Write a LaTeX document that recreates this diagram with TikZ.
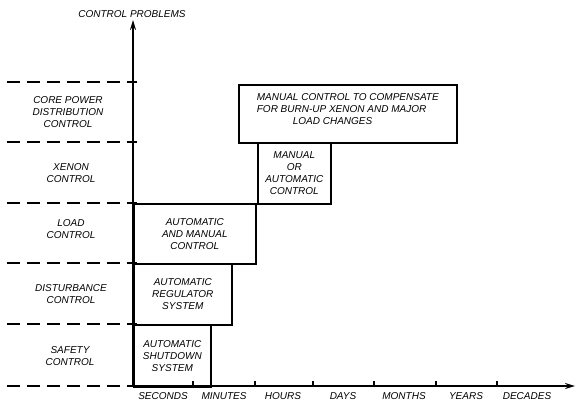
\documentclass[tikz,border=0pt]{standalone}
\usepackage{fontspec}
\setmainfont{Liberation Sans}
\usetikzlibrary{arrows.meta}
\begin{document}
\begin{tikzpicture}[x=1pt,y=-1pt,
  txt/.style={font=\fontsize{10}{11.8}\selectfont\itshape, align=center, inner sep=0pt},
  box/.style={draw, line width=1.6pt, anchor=north west, inner sep=0pt, txt},
  sep/.style={line width=1.4pt, dash pattern=on 13pt off 7pt},
  axis/.style={line width=1.9pt, -{Stealth[length=10pt,width=6pt]}},
  tick/.style={line width=1.2pt},
]
\useasboundingbox (0,0) rectangle (575,402);
% axes
\coordinate (O) at (133,386);
\coordinate (ytop) at (133,20);
\coordinate (xend) at (575,386);
% dashed row separators
\foreach \y in {82,142,203,263,324,386}
  \draw[sep] (7,\y) -- (137,\y);
% boxes
\node[box, minimum width=77pt, minimum height=62pt] (safety) at (133,324) {AUTOMATIC\\SHUTDOWN\\SYSTEM};
\node[box, minimum width=98pt, minimum height=61pt] (dist) at (133,263) {AUTOMATIC\\REGULATOR\\SYSTEM};
\node[box, minimum width=122pt, minimum height=60pt] (load) at (133,203) {AUTOMATIC\\AND MANUAL\\CONTROL};
\node[box, minimum width=73pt, minimum height=61pt] (xenon) at (257,142) {MANUAL\\OR\\AUTOMATIC\\CONTROL};
\node[box, minimum width=218pt, minimum height=58pt,
  label={[txt, align=left, yshift=5pt]center:{MANUAL CONTROL TO COMPENSATE\\FOR BURN-UP XENON AND MAJOR\\\hspace*{3.6em}LOAD CHANGES}}] (core) at (238,84) {};
\draw[axis] (O) -- (ytop);
\draw[axis] (O) -- (xend);
\foreach \x in {193,255,313,374,436,497}
  \draw[tick] (\x,386) -- (\x,381);
% axis titles
\node[txt] (title) at (132,14) {CONTROL PROBLEMS};
% row labels
\node[txt] (lcore) at (68,112) {CORE POWER\\DISTRIBUTION\\CONTROL};
\node[txt] (lxenon) at (71,173) {XENON\\CONTROL};
\node[txt] (lload) at (71,229) {LOAD\\CONTROL};
\node[txt] (ldist) at (71,294) {DISTURBANCE\\CONTROL};
\node[txt] (lsafe) at (70,356) {SAFETY\\CONTROL};
% time labels
\node[txt] (t1) at (163,396) {SECONDS};
\node[txt] (t2) at (224,396) {MINUTES};
\node[txt] (t3) at (283,396) {HOURS};
\node[txt] (t4) at (343,396) {DAYS};
\node[txt] (t5) at (404,396) {MONTHS};
\node[txt] (t6) at (466,396) {YEARS};
\node[txt] (t7) at (527,396) {DECADES};
\end{tikzpicture}
\end{document}
